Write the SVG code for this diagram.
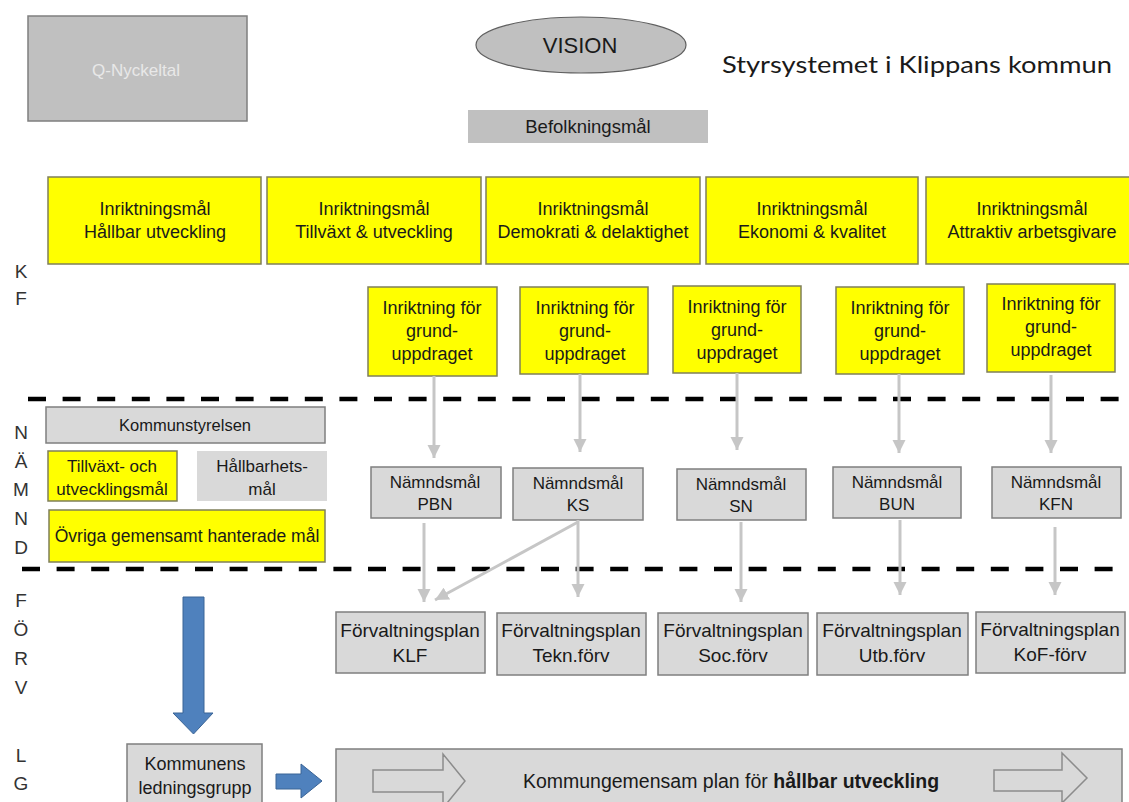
<svg xmlns="http://www.w3.org/2000/svg" width="1129" height="802" viewBox="0 0 1129 802">
<defs>
<style>
text{font-family:"Liberation Sans",Arial,sans-serif;fill:#1a1a1a;text-anchor:middle}
.y{fill:#ffff00;stroke:#7f7f5a;stroke-width:1.5}
.g{fill:#d9d9d9;stroke:#7f7f7f;stroke-width:1.5}
.gn{fill:#d9d9d9;stroke:none}
.r1{font-size:18px}
.r2{font-size:18px}
.nm{font-size:17px}
.fp{font-size:19px}
.lf{font-size:17px}
.side{font-size:19px;fill:#333}
.dash{stroke:#000;stroke-width:4.5;stroke-dasharray:18 16.6;fill:none}
.con{stroke:#c6c6c6;stroke-width:3;fill:none}
.blue{fill:#4f81bd;stroke:#3a6496;stroke-width:1}
.outl{fill:none;stroke:#8c8c8c;stroke-width:1.5}
</style>
<marker id="ah" viewBox="0 0 10 10" refX="10" refY="5" markerWidth="4.5" markerHeight="4.5" markerUnits="strokeWidth" orient="auto">
<path d="M0,0 L10,5 L0,10 z" fill="#c6c6c6"/>
</marker>
</defs>

<g id="q-nyckeltal">
<rect x="28" y="16" width="219" height="105" fill="#c0c0c0" stroke="#7f7f7f" stroke-width="1.5"/>
<text x="136" y="76" style="font-size:17px;fill:#e8e8e8">Q-Nyckeltal</text>
</g>
<g id="vision">
<ellipse cx="581" cy="45" rx="105" ry="28" fill="#c0c0c0" stroke="#5f5f5f" stroke-width="1.2"/>
<text x="580" y="53" style="font-size:22px">VISION</text>
</g>
<g id="title">
<text x="722" y="73" style="font-family:Lato,'Liberation Sans',sans-serif;font-size:24px;text-anchor:start" textLength="390" lengthAdjust="spacingAndGlyphs">Styrsystemet i Klippans kommun</text>
</g>
<g id="befolkningsmal">
<rect x="468" y="110" width="240" height="33" fill="#c0c0c0"/>
<text x="588" y="133" style="font-size:18.5px">Befolkningsmål</text>
</g>

<g id="side-labels">
<text x="21" y="278" class="side">K</text>
<text x="21" y="305" class="side">F</text>
<text x="21" y="439" class="side">N</text>
<text x="21" y="468" class="side">Ä</text>
<text x="21" y="496" class="side">M</text>
<text x="21" y="525" class="side">N</text>
<text x="21" y="554" class="side">D</text>
<text x="21" y="607" class="side">F</text>
<text x="21" y="636" class="side">Ö</text>
<text x="21" y="665" class="side">R</text>
<text x="21" y="694" class="side">V</text>
<text x="21" y="762" class="side">L</text>
<text x="21" y="790" class="side">G</text>
</g>

<g id="inr-hallbar">
<rect class="y" x="48" y="177" width="213" height="87"/>
<text x="155" y="215" class="r1">Inriktningsmål</text>
<text x="155" y="238" class="r1">Hållbar utveckling</text>
</g>
<g id="inr-tillvaxt">
<rect class="y" x="267" y="177" width="214" height="87"/>
<text x="374" y="215" class="r1">Inriktningsmål</text>
<text x="374" y="238" class="r1">Tillväxt &amp; utveckling</text>
</g>
<g id="inr-demokrati">
<rect class="y" x="486" y="177" width="214" height="87"/>
<text x="593" y="215" class="r1">Inriktningsmål</text>
<text x="593" y="238" class="r1">Demokrati &amp; delaktighet</text>
</g>
<g id="inr-ekonomi">
<rect class="y" x="706" y="177" width="212" height="87"/>
<text x="812" y="215" class="r1">Inriktningsmål</text>
<text x="812" y="238" class="r1">Ekonomi &amp; kvalitet</text>
</g>
<g id="inr-attraktiv">
<rect class="y" x="926" y="177" width="214" height="87"/>
<text x="1032" y="215" class="r1">Inriktningsmål</text>
<text x="1032" y="238" class="r1">Attraktiv arbetsgivare</text>
</g>

<g id="grund-1">
<rect class="y" x="368" y="287" width="129" height="89"/>
<text x="432" y="314" class="r2">Inriktning för</text>
<text x="432" y="337" class="r2">grund-</text>
<text x="432" y="360" class="r2">uppdraget</text>
</g>
<g id="grund-2">
<rect class="y" x="520" y="287" width="128" height="87"/>
<text x="585" y="314" class="r2">Inriktning för</text>
<text x="585" y="337" class="r2">grund-</text>
<text x="585" y="360" class="r2">uppdraget</text>
</g>
<g id="grund-3">
<rect class="y" x="673" y="286" width="128" height="87"/>
<text x="737" y="313" class="r2">Inriktning för</text>
<text x="737" y="336" class="r2">grund-</text>
<text x="737" y="359" class="r2">uppdraget</text>
</g>
<g id="grund-4">
<rect class="y" x="836" y="287" width="128" height="87"/>
<text x="900" y="314" class="r2">Inriktning för</text>
<text x="900" y="337" class="r2">grund-</text>
<text x="900" y="360" class="r2">uppdraget</text>
</g>
<g id="grund-5">
<rect class="y" x="987" y="284" width="128" height="88"/>
<text x="1051" y="310" class="r2">Inriktning för</text>
<text x="1051" y="333" class="r2">grund-</text>
<text x="1051" y="356" class="r2">uppdraget</text>
</g>

<g id="dividers">
<line class="dash" x1="28" y1="399" x2="1129" y2="399"/>
<line class="dash" x1="22" y1="569" x2="1129" y2="569"/>
</g>

<g id="kommunstyrelsen">
<rect class="g" x="46" y="407" width="279" height="36"/>
<text x="185" y="431" style="font-size:16.5px">Kommunstyrelsen</text>
</g>
<g id="tillvaxt-mal">
<rect class="y" x="48" y="451" width="129" height="50"/>
<text x="112" y="472" class="lf">Tillväxt- och</text>
<text x="112" y="495" class="lf">utvecklingsmål</text>
</g>
<g id="hallbarhets-mal">
<rect class="gn" x="197" y="451" width="130" height="50"/>
<text x="262" y="472" class="lf">Hållbarhets-</text>
<text x="262" y="495" class="lf">mål</text>
</g>
<g id="ovriga-mal">
<rect class="y" x="49" y="510" width="276" height="52"/>
<text x="187" y="542" style="font-size:17.5px">Övriga gemensamt hanterade mål</text>
</g>

<g id="nmal-pbn">
<rect class="g" x="371" y="467" width="130" height="51"/>
<text x="435" y="488" class="nm">Nämndsmål</text>
<text x="435" y="510" class="nm">PBN</text>
</g>
<g id="nmal-ks">
<rect class="g" x="513" y="468" width="130" height="52"/>
<text x="578" y="489" class="nm">Nämndsmål</text>
<text x="578" y="511" class="nm">KS</text>
</g>
<g id="nmal-sn">
<rect class="g" x="677" y="469" width="129" height="51"/>
<text x="741" y="490" class="nm">Nämndsmål</text>
<text x="741" y="512" class="nm">SN</text>
</g>
<g id="nmal-bun">
<rect class="g" x="833" y="467" width="128" height="51"/>
<text x="897" y="488" class="nm">Nämndsmål</text>
<text x="897" y="510" class="nm">BUN</text>
</g>
<g id="nmal-kfn">
<rect class="g" x="992" y="467" width="129" height="51"/>
<text x="1056" y="488" class="nm">Nämndsmål</text>
<text x="1056" y="510" class="nm">KFN</text>
</g>

<g id="fplan-klf">
<rect class="g" x="336" y="612" width="149" height="61"/>
<text x="410" y="637" class="fp">Förvaltningsplan</text>
<text x="410" y="662" class="fp">KLF</text>
</g>
<g id="fplan-tekn">
<rect class="g" x="497" y="613" width="149" height="62"/>
<text x="571" y="637" class="fp">Förvaltningsplan</text>
<text x="571" y="662" class="fp">Tekn.förv</text>
</g>
<g id="fplan-soc">
<rect class="g" x="658" y="613" width="150" height="62"/>
<text x="733" y="637" class="fp">Förvaltningsplan</text>
<text x="733" y="662" class="fp">Soc.förv</text>
</g>
<g id="fplan-utb">
<rect class="g" x="817" y="613" width="151" height="62"/>
<text x="892" y="637" class="fp">Förvaltningsplan</text>
<text x="892" y="662" class="fp">Utb.förv</text>
</g>
<g id="fplan-kof">
<rect class="g" x="976" y="612" width="149" height="61"/>
<text x="1050" y="636" class="fp">Förvaltningsplan</text>
<text x="1050" y="661" class="fp">KoF-förv</text>
</g>

<g id="ledningsgrupp">
<rect class="g" x="127" y="744" width="135" height="62"/>
<text x="195" y="770" style="font-size:18px">Kommunens</text>
<text x="195" y="794" style="font-size:18px">ledningsgrupp</text>
</g>

<g id="plan-hallbar">
<rect class="g" x="336" y="749" width="786" height="60"/>
<path class="outl" d="M373,770 H443 V754 L465,781 L443,808 V792 H373 Z"/>
<path class="outl" d="M994,770 H1062 V753 L1087,778 L1062,803 V791 H994 Z"/>
<text x="731" y="788" style="font-size:19.5px">Kommungemensam  plan för <tspan style="font-weight:bold">hållbar utveckling</tspan></text>
</g>

<g id="connectors">
<line class="con" x1="434" y1="376" x2="434" y2="458" marker-end="url(#ah)"/>
<line class="con" x1="580" y1="374" x2="580" y2="452" marker-end="url(#ah)"/>
<line class="con" x1="737" y1="373" x2="737" y2="450" marker-end="url(#ah)"/>
<line class="con" x1="899" y1="374" x2="899" y2="453" marker-end="url(#ah)"/>
<line class="con" x1="1051" y1="375" x2="1051" y2="453" marker-end="url(#ah)"/>
<line class="con" x1="424" y1="523" x2="424" y2="602" marker-end="url(#ah)"/>
<line class="con" x1="578" y1="520" x2="578" y2="597" marker-end="url(#ah)"/>
<line class="con" x1="578" y1="522" x2="435" y2="600" marker-end="url(#ah)"/>
<line class="con" x1="741" y1="522" x2="741" y2="602" marker-end="url(#ah)"/>
<line class="con" x1="900" y1="520" x2="900" y2="595" marker-end="url(#ah)"/>
<line class="con" x1="1055" y1="527" x2="1055" y2="595" marker-end="url(#ah)"/>
<path class="blue" d="M183,597 H204 V713 H213 L193.5,734 L173,713 H183 Z"/>
<path class="blue" d="M276,774 H301 V764 L322,781 L301,798 V789 H276 Z"/>
</g>
</svg>
